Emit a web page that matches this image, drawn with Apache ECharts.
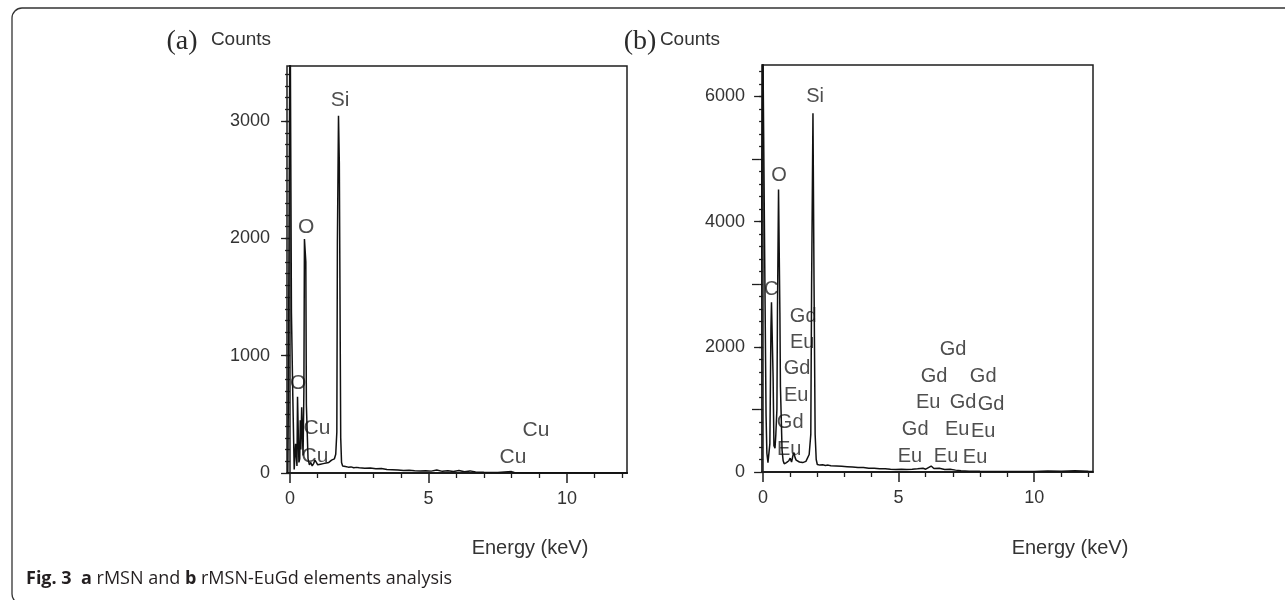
<!DOCTYPE html>
<html>
<head>
<meta charset="utf-8">
<title>EDS spectra rMSN / rMSN-EuGd</title>
<script src="https://cdn.jsdelivr.net/npm/echarts@6/dist/echarts.min.js"></script>
<style>
  html, body { margin: 0; padding: 0; background: #fff; }
  #container { width: 1285px; height: 600px; }
</style>
</head>
<body>
<div id="container"></div>
<script>
// (a) rMSN spectrum (keV / counts)
let energyA = [-0.08, -0.06, -0.03, -0.01, 0.00, 0.04, 0.05, 0.09, 0.10, 0.13, 0.15, 0.18, 0.20, 0.23, 0.25, 0.27, 0.30, 0.32, 0.35, 0.37,
  0.39, 0.42, 0.45, 0.47, 0.50, 0.52, 0.55, 0.57, 0.59, 0.63, 0.65, 0.70, 0.75, 0.80, 0.85, 0.90, 0.95, 1.00, 1.05, 1.10,
  1.15, 1.20, 1.25, 1.30, 1.35, 1.40, 1.45, 1.50, 1.55, 1.60, 1.65, 1.69, 1.71, 1.74, 1.75, 1.77, 1.78, 1.81, 1.83, 1.86,
  1.90, 2.00, 2.10, 2.20, 2.30, 2.40, 2.50, 2.70, 2.90, 3.10, 3.30, 3.50, 3.70, 3.90, 4.10, 4.30, 4.50, 4.70, 4.90, 5.10,
  5.30, 5.50, 5.70, 5.90, 6.10, 6.30, 6.50, 6.70, 7.00, 7.50, 8.00, 8.10, 8.50, 9.00, 10.0, 11.0, 12.2];
let countsA = [0, 650, 660, 660, 4200, 4200, 1370, 1360, 650, 640, 30, 40, 250, 240, 60, 650, 640, 90, 120, 450,
  200, 560, 570, 150, 700, 1995, 1990, 1800, 580, 570, 120, 70, 90, 60, 80, 110, 90, 70, 85, 75,
  90, 80, 95, 85, 100, 90, 105, 110, 100, 120, 160, 350, 1960, 1960, 3045, 3040, 2640, 2630, 300, 90,
  60, 55, 50, 52, 45, 48, 44, 40, 42, 36, 38, 30, 28, 25, 22, 24, 20, 18, 20, 16,
  25, 14, 20, 12, 22, 10, 18, 8, 6, 5, 12, 4, 3, 2, 2, 1, 1];

// (b) rMSN-EuGd spectrum
let energyB = [-0.09, -0.07, -0.02, -0.01, 0.05, 0.06, 0.09, 0.11, 0.14, 0.18, 0.21, 0.25, 0.29, 0.31, 0.35, 0.37, 0.40, 0.44, 0.47, 0.51,
  0.53, 0.56, 0.57, 0.61, 0.62, 0.64, 0.67, 0.70, 0.74, 0.78, 0.82, 0.86, 0.90, 0.95, 1.00, 1.05, 1.10, 1.14, 1.18, 1.22,
  1.28, 1.34, 1.40, 1.46, 1.52, 1.58, 1.64, 1.70, 1.76, 1.79, 1.83, 1.84, 1.87, 1.88, 1.90, 1.92, 1.96, 2.00, 2.10, 2.20,
  2.30, 2.40, 2.50, 2.70, 2.90, 3.10, 3.30, 3.50, 3.70, 3.90, 4.10, 4.30, 4.50, 4.70, 4.90, 5.10, 5.30, 5.50, 5.70, 5.90,
  6.00, 6.10, 6.20, 6.30, 6.50, 6.70, 6.90, 7.10, 7.30, 7.60, 8.00, 9.00, 10.0, 10.5, 11.0, 11.5, 12.0, 12.17];
let countsB = [0, 3390, 3390, 7000, 7000, 3380, 3370, 900, 300, 150, 160, 450, 2300, 2710, 2700, 1500, 420, 380, 600, 1000,
  2540, 2550, 4510, 4500, 2540, 1360, 1350, 350, 180, 130, 120, 150, 140, 180, 220, 160, 260, 310, 230, 190,
  170, 160, 180, 150, 165, 170, 200, 280, 600, 2990, 2990, 5730, 5720, 2990, 2980, 600, 200, 120, 110, 115,
  105, 110, 100, 95, 90, 85, 80, 72, 70, 60, 58, 50, 52, 45, 40, 45, 38, 42, 50, 60,
  45, 70, 95, 55, 60, 40, 45, 30, 20, 12, 10, 8, 6, 15, 12, 18, 10, 8];

// peak labels: text, keV, counts
let peakLabelsA = [
  ['Si', 1.81, 3180], ['O', 0.58, 2097], ['O', 0.29, 767],
  ['Cu', 0.97, 384], ['Cu', 0.90, 145], ['Cu', 8.88, 367], ['Cu', 8.05, 136]
];
let peakLabelsB = [
  ['Si', 1.92, 6000], ['O', 0.59, 4736], ['C', 0.30, 2912],
  ['Gd', 1.48, 2480], ['Eu', 1.44, 2064], ['Gd', 1.25, 1648], ['Eu', 1.22, 1216], ['Gd', 1.00, 784], ['Eu', 0.96, 352],
  ['Gd', 7.01, 1952], ['Gd', 6.31, 1520], ['Gd', 8.12, 1520],
  ['Eu', 6.09, 1104], ['Gd', 7.38, 1104], ['Gd', 8.41, 1072],
  ['Gd', 5.61, 672], ['Eu', 7.16, 672], ['Eu', 8.12, 640],
  ['Eu', 5.42, 240], ['Eu', 6.75, 240], ['Eu', 7.82, 224]
];

let xTickLabels = [0, 5, 10];
let xMinorTicks = [1, 2, 3, 4, 6, 7, 8, 9, 11, 12];
let yTickLabelsA = [0, 1000, 2000, 3000];
let yTickLabelsB = [0, 2000, 4000, 6000];
let yMidTicksB = [1000, 3000, 5000];

const zip = (xs, ys) => xs.map((x, i) => [x, ys[i]]);
const steps = (from, to, step) => {
  let out = [];
  for (let v = from; v <= to; v += step) out.push(v);
  return out;
};

const ink = '#1e1e1e';
const textCol = '#333';
const sans = "'Liberation Sans', Arial, sans-serif";
const narrow = "'Liberation Sans Narrow', 'Liberation Sans', Arial, sans-serif";

function xMain(grid, min, max) {
  return {
    gridIndex: grid, type: 'value', position: 'bottom', min: min, max: max,
    axisLine: { lineStyle: { color: ink, width: 2 } },
    axisTick: { customValues: xTickLabels, length: 10, lineStyle: { color: ink, width: 1.5 } },
    axisLabel: { customValues: xTickLabels, margin: 17, fontSize: 18, color: textCol, fontFamily: sans, formatter: (v) => String(v) },
    splitLine: { show: false }
  };
}
function xMinor(grid, min, max) {
  return {
    gridIndex: grid, type: 'value', position: 'bottom', min: min, max: max,
    axisLine: { show: false },
    axisTick: { customValues: xMinorTicks, length: 5, lineStyle: { color: ink, width: 1.3 } },
    axisLabel: { show: false },
    splitLine: { show: false }
  };
}
function yAxisTicks(grid, max, ticks, len, labels) {
  return {
    gridIndex: grid, type: 'value', position: 'left', min: 0, max: max, offset: 3,
    axisLine: { show: labels, lineStyle: { color: ink, width: 1.5 } },
    axisTick: { customValues: ticks, length: len, lineStyle: { color: ink, width: 1.3 } },
    axisLabel: labels
      ? { customValues: ticks, margin: 14, fontSize: 18, color: textCol, fontFamily: sans, formatter: (v) => String(v) }
      : { show: false },
    splitLine: { show: false }
  };
}
function labelSeries(xi, yi, list, size) {
  return {
    type: 'scatter', xAxisIndex: xi, yAxisIndex: yi, silent: true,
    symbol: 'circle', symbolSize: 1, itemStyle: { color: 'rgba(0,0,0,0)' },
    label: {
      show: true, position: 'inside', formatter: '{b}',
      fontSize: size, color: '#222', fontFamily: narrow
    },
    data: list.map((l) => ({ name: l[0], value: [l[1], l[2]] }))
  };
}

var myChart = echarts.init(document.getElementById('container'));
let option;

option = {
  animation: false,
  backgroundColor: '#fff',
  title: [
    {
      left: 26, top: 570, padding: 0,
      text: '{b|Fig. 3}  {b|a} rMSN and {b|b} rMSN-EuGd elements analysis',
      textStyle: {
        fontFamily: "'Open Sans', 'Noto Sans', sans-serif", fontSize: 18, fontWeight: 'normal', color: '#231f20',
        rich: { b: { fontFamily: "'Open Sans', 'Noto Sans', sans-serif", fontSize: 18, fontWeight: 'bold', color: '#231f20' } }
      }
    }
  ],
  graphic: [
    {
      type: 'rect', silent: true,
      shape: { x: 12, y: 8, width: 1300, height: 596, r: [10, 0, 0, 10] },
      style: { fill: 'none', stroke: '#333', lineWidth: 1.3 }
    },
    { type: 'text', x: 182, y: 42, style: { text: '(a)', font: '28px "Liberation Serif", serif', fill: '#2a2a2a', align: 'center', verticalAlign: 'middle' } },
    { type: 'text', x: 241, y: 40, style: { text: 'Counts', font: '19px "Liberation Sans", Arial', fill: textCol, align: 'center', verticalAlign: 'middle' } },
    { type: 'text', x: 640, y: 42, style: { text: '(b)', font: '28px "Liberation Serif", serif', fill: '#2a2a2a', align: 'center', verticalAlign: 'middle' } },
    { type: 'text', x: 690, y: 40, style: { text: 'Counts', font: '19px "Liberation Sans", Arial', fill: textCol, align: 'center', verticalAlign: 'middle' } },
    { type: 'text', x: 530, y: 548, style: { text: 'Energy (keV)', font: '20px "Liberation Sans", Arial', fill: textCol, align: 'center', verticalAlign: 'middle' } },
    { type: 'text', x: 1070, y: 548, style: { text: 'Energy (keV)', font: '20px "Liberation Sans", Arial', fill: textCol, align: 'center', verticalAlign: 'middle' } }
  ],
  grid: [
    { left: 287, top: 66, width: 340, height: 407, show: true, borderColor: ink, borderWidth: 1.5, outerBoundsMode: 'none' },
    { left: 762, top: 65, width: 331, height: 407, show: true, borderColor: ink, borderWidth: 1.5, outerBoundsMode: 'none' }
  ],
  xAxis: [
    xMain(0, -0.11, 12.17),
    xMinor(0, -0.11, 12.17),
    xMain(1, -0.04, 12.17),
    xMinor(1, -0.04, 12.17)
  ],
  yAxis: [
    yAxisTicks(0, 3470, yTickLabelsA, 9, true),
    yAxisTicks(0, 3470, steps(100, 3400, 100), 5, false),
    yAxisTicks(1, 6500, yTickLabelsB, 9, true),
    yAxisTicks(1, 6500, steps(200, 6400, 200), 4, false),
    yAxisTicks(1, 6500, yMidTicksB, 7, false)
  ],
  series: [
    {
      name: 'rMSN', type: 'line', xAxisIndex: 0, yAxisIndex: 0,
      symbol: 'none', clip: true,
      lineStyle: { color: '#111', width: 1.5 },
      data: zip(energyA, countsA)
    },
    labelSeries(0, 0, peakLabelsA, 21),
    {
      name: 'rMSN-EuGd', type: 'line', xAxisIndex: 2, yAxisIndex: 2,
      symbol: 'none', clip: true,
      lineStyle: { color: '#111', width: 1.5 },
      data: zip(energyB, countsB)
    },
    labelSeries(2, 2, peakLabelsB, 20)
  ]
};

if (option && typeof option === 'object') {
  myChart.setOption(option);
}
</script>
</body>
</html>
